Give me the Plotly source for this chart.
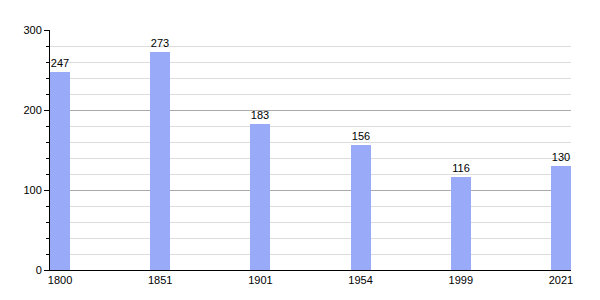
import plotly.graph_objects as go

years = ["1800", "1851", "1901", "1954", "1999", "2021"]
population = [247, 273, 183, 156, 116, 130]

positions = list(range(len(years)))

fig = go.Figure(go.Bar(
    x=positions,
    y=population,
    width=0.2,
    marker=dict(color="#99aaf8", line=dict(width=0)),
    text=[str(v) for v in population],
    textposition="outside",
    textfont=dict(family="Liberation Sans, Arial", size=11, color="#000"),
    cliponaxis=False,
))

fig.update_layout(
    width=600, height=300,
    margin=dict(l=50, r=29, t=30, b=30),
    plot_bgcolor="white", paper_bgcolor="white",
    showlegend=False,
    bargap=0,
    font=dict(family="Liberation Sans, Arial", size=11, color="#000"),
)
fig.update_xaxes(
    range=[-0.1, 5.1],
    tickmode="array", tickvals=positions, ticktext=years,
    showgrid=False, zeroline=False,
    showline=True, linecolor="black", linewidth=1,
    ticks="", ticklen=0,
    tickfont=dict(size=11),
)
fig.update_yaxes(
    range=[0, 300],
    tickmode="array", tickvals=[0, 100, 200, 300],
    showgrid=True, gridcolor="#aaaaaa", gridwidth=1,
    zeroline=False,
    showline=True, linecolor="black", linewidth=1,
    ticks="outside", ticklen=5, tickcolor="black",
    minor=dict(dtick=20, showgrid=True, gridcolor="#dddddd", gridwidth=1,
               ticks="outside", ticklen=3, tickcolor="black"),
    tickfont=dict(size=11),
)

fig.write_html("out.html")
